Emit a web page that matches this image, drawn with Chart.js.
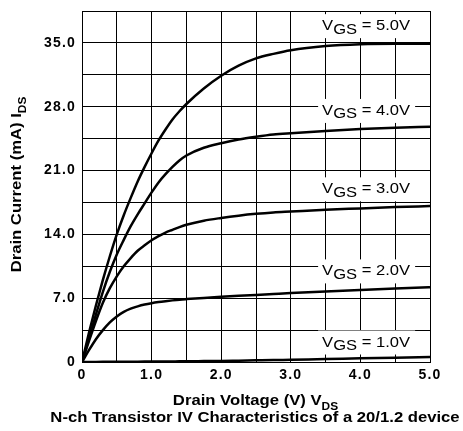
<!DOCTYPE html>
<html><head><meta charset="utf-8">
<script src="https://cdn.jsdelivr.net/npm/chart.js@4/dist/chart.umd.min.js"></script>
<style>html,body{margin:0;padding:0;background:#fff;}#wrap{width:463px;height:431px;}</style>
</head><body><div id="wrap"><canvas id="c" width="463" height="431"></canvas></div>
<script>
// Drain voltage samples (V)
const vds = [0,0.1,0.2,0.3,0.4,0.5,0.6,0.7,0.8,0.9,1.0,1.1,1.2,1.3,1.4,1.5,1.75,2.0,2.25,2.5,2.75,3.0,3.5,4.0,4.5,5.0];
// Drain current (mA) per gate voltage
const idsVgs5 = [0,3.2,6.2,9.0,11.6,14.0,16.1,18.0,19.8,21.4,22.9,24.3,25.5,26.6,27.5,28.3,30.0,31.4,32.5,33.3,33.8,34.2,34.65,34.85,34.9,34.9];
const idsVgs4 = [0,2.6,5.2,7.7,9.9,11.8,13.4,14.9,16.2,17.4,18.6,19.7,20.6,21.4,22.1,22.65,23.5,24.0,24.4,24.7,24.95,25.1,25.35,25.55,25.7,25.8];
const idsVgs3 = [0,2.3,4.5,6.5,8.1,9.4,10.5,11.4,12.2,12.8,13.35,13.8,14.2,14.5,14.8,15.05,15.5,15.8,16.05,16.25,16.4,16.5,16.7,16.85,17.0,17.1];
const idsVgs2 = [0,1.3,2.5,3.5,4.35,5.0,5.5,5.85,6.1,6.3,6.45,6.57,6.67,6.76,6.84,6.9,7.03,7.15,7.26,7.36,7.46,7.56,7.74,7.9,8.05,8.2];
const idsVgs1 = [0,0.005,0.01,0.015,0.02,0.025,0.03,0.035,0.04,0.045,0.05,0.055,0.06,0.065,0.07,0.08,0.1,0.12,0.15,0.18,0.21,0.25,0.32,0.4,0.47,0.55];
const vgsNames = ['5.0','4.0','3.0','2.0','1.0'];
// label anchors (data coords: Vds of text start, Ids of baseline)
const labelVds = [3.45,3.45,3.45,3.45,3.45];
const labelIds = [36.4,27.1,18.5,9.5,1.7];
// grid & tick labels
const xGrid = [0,0.5,1,1.5,2,2.5,3,3.5,4,4.5,5];
const xLabelValues = [0,1,2,3,4,5];
const xLabelTexts = ['0','1.0','2.0','3.0','4.0','5.0'];
const yGrid = [0,3.5,7,10.5,14,17.5,21,24.5,28,31.5,35,38.5];
const yLabelValues = [0,7,14,21,28,35];
const yLabelTexts = ['0','7.0','14.0','21.0','28.0','35.0'];
const xTitle = ['Drain Voltage (V) V','DS'];
const yTitle = ['Drain Current (mA) I','DS'];
const subTitle = 'N-ch Transistor IV Characteristics of a 20/1.2 device';

const allSeries = [idsVgs5, idsVgs4, idsVgs3, idsVgs2, idsVgs1];
const datasets = allSeries.map((s,i)=>({
  label: 'VGS = '+vgsNames[i]+'V',
  data: vds.map((v,j)=>({x:v,y:s[j]})),
  borderColor:'#000', borderWidth:2.5, pointRadius:0, fill:false,
  cubicInterpolationMode:'monotone'
}));

const BOLD = 'bold 14px "Liberation Sans", Arial, sans-serif';
const BOLD_SUB = 'bold 10px "Liberation Sans", Arial, sans-serif';
const REG = '14px "Liberation Sans", Arial, sans-serif';
const SX = 1.19;

function runWidth(ctx, runs){let w=0;for(const r of runs){ctx.font=r.f;w+=ctx.measureText(r.t).width;}return w;}
function drawRuns(ctx, runs, x, y, sx){
  ctx.save(); ctx.translate(x,y); ctx.scale(sx,1);
  let cx=0; ctx.textBaseline='alphabetic'; ctx.textAlign='left';
  for(const r of runs){ctx.font=r.f; ctx.fillText(r.t,cx,r.dy||0); cx+=ctx.measureText(r.t).width;}
  ctx.restore();
}

const spacingPlugin = {
  id:'spacing',
  beforeDraw(chart){ if('letterSpacing' in chart.ctx) chart.ctx.letterSpacing='1.2px'; },
  afterDraw(chart){ if('letterSpacing' in chart.ctx) chart.ctx.letterSpacing='0px'; }
};

const textPlugin = {
  id:'texts',
  afterDraw(chart){
    const ctx=chart.ctx, xs=chart.scales.x, ys=chart.scales.y;
    if('letterSpacing' in ctx) ctx.letterSpacing='0px';
    ctx.save(); ctx.fillStyle='#000';
    vgsNames.forEach((n,i)=>{
      const x0=xs.getPixelForValue(labelVds[i]), yb=ys.getPixelForValue(labelIds[i]);
      const runs=[{t:'V',f:REG},{t:'GS',f:REG,dy:3.5},{t:' = '+n+'V',f:REG}];
      const w=runWidth(ctx,runs);
      const sx=88/w;
      ctx.fillStyle='#fff'; ctx.fillRect(x0-4,yb-16,97,24);
      ctx.fillStyle='#000';
      drawRuns(ctx,runs,x0,yb,sx);
    });
    let runs=[{t:xTitle[0],f:BOLD},{t:xTitle[1],f:BOLD_SUB,dy:5}];
    let w=runWidth(ctx,runs)*SX;
    drawRuns(ctx,runs,255.5-w/2,405,SX);
    runs=[{t:subTitle,f:BOLD}];
    w=runWidth(ctx,runs)*SX;
    drawRuns(ctx,runs,255-w/2,422,SX);
    runs=[{t:yTitle[0],f:BOLD},{t:yTitle[1],f:BOLD_SUB,dy:5}];
    w=runWidth(ctx,runs)*SX;
    ctx.save(); ctx.translate(21,184.5); ctx.rotate(-Math.PI/2);
    drawRuns(ctx,runs,-w/2,0,SX);
    ctx.restore();
    ctx.restore();
  }
};

const tickFont = {family:'"Liberation Sans", Arial, sans-serif', weight:'bold', size:14};
new Chart(document.getElementById('c'), {
  type:'line',
  data:{datasets},
  options:{
    responsive:false, animation:false, devicePixelRatio:1,
    layout:{padding:{top:11,right:33,left:0,bottom:0}},
    plugins:{legend:{display:false}, tooltip:{enabled:false}},
    scales:{
      x:{type:'linear', min:0, max:5,
        afterBuildTicks(s){s.ticks=xGrid.map(v=>({value:v}));},
        afterFit(s){s.height=69; s.paddingLeft=0; s.paddingRight=0;},
        grid:{color:'#000', lineWidth:1, drawTicks:false},
        border:{color:'#000', width:1},
        ticks:{padding:5, color:'#000', font:tickFont, autoSkip:false, maxRotation:0,
          callback:(v)=>{const i=xLabelValues.indexOf(Math.round(v*10)/10);return i>=0?xLabelTexts[i]:'';}}
      },
      y:{type:'linear', min:0, max:38.5,
        afterBuildTicks(s){s.ticks=yGrid.map(v=>({value:v}));},
        afterFit(s){s.width=82; s.paddingTop=0; s.paddingBottom=0;},
        grid:{color:'#000', lineWidth:1, drawTicks:false},
        border:{color:'#000', width:1},
        ticks:{padding:6, color:'#000', font:tickFont, autoSkip:false,
          callback:(v)=>{const i=yLabelValues.indexOf(Math.round(v*10)/10);return i>=0?yLabelTexts[i]:'';}}
      }
    }
  },
  plugins:[spacingPlugin, textPlugin]
});
</script></body></html>
